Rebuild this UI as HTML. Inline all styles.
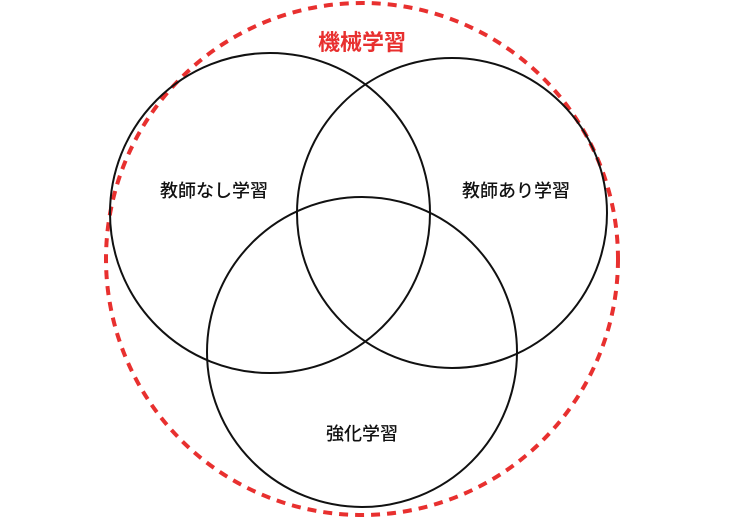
<!DOCTYPE html>
<html><head><meta charset="utf-8"><style>
html,body{margin:0;padding:0;background:#fff;width:740px;height:517px;overflow:hidden}
text{font-family:"Liberation Sans","Noto Sans CJK JP",sans-serif}
</style></head><body>
<svg width="740" height="517" viewBox="0 0 740 517" xmlns="http://www.w3.org/2000/svg">
<circle cx="362" cy="259" r="256" fill="none" stroke="#e8302f" stroke-width="4" stroke-dasharray="9 7"/>
<circle cx="270" cy="213" r="160" fill="none" stroke="#111" stroke-width="2"/>
<circle cx="452" cy="213" r="155" fill="none" stroke="#111" stroke-width="2"/>
<circle cx="362" cy="352" r="155" fill="none" stroke="#111" stroke-width="2"/>
<text x="362" y="50" font-size="22" font-weight="bold" fill="#e8302f" text-anchor="middle">機械学習</text>
<text x="214" y="197" font-size="18" font-weight="500" fill="#111" text-anchor="middle">教師なし学習</text>
<text x="516" y="197" font-size="18" font-weight="500" fill="#111" text-anchor="middle">教師あり学習</text>
<text x="362" y="440" font-size="18" font-weight="500" fill="#111" text-anchor="middle">強化学習</text>
</svg>
</body></html>
